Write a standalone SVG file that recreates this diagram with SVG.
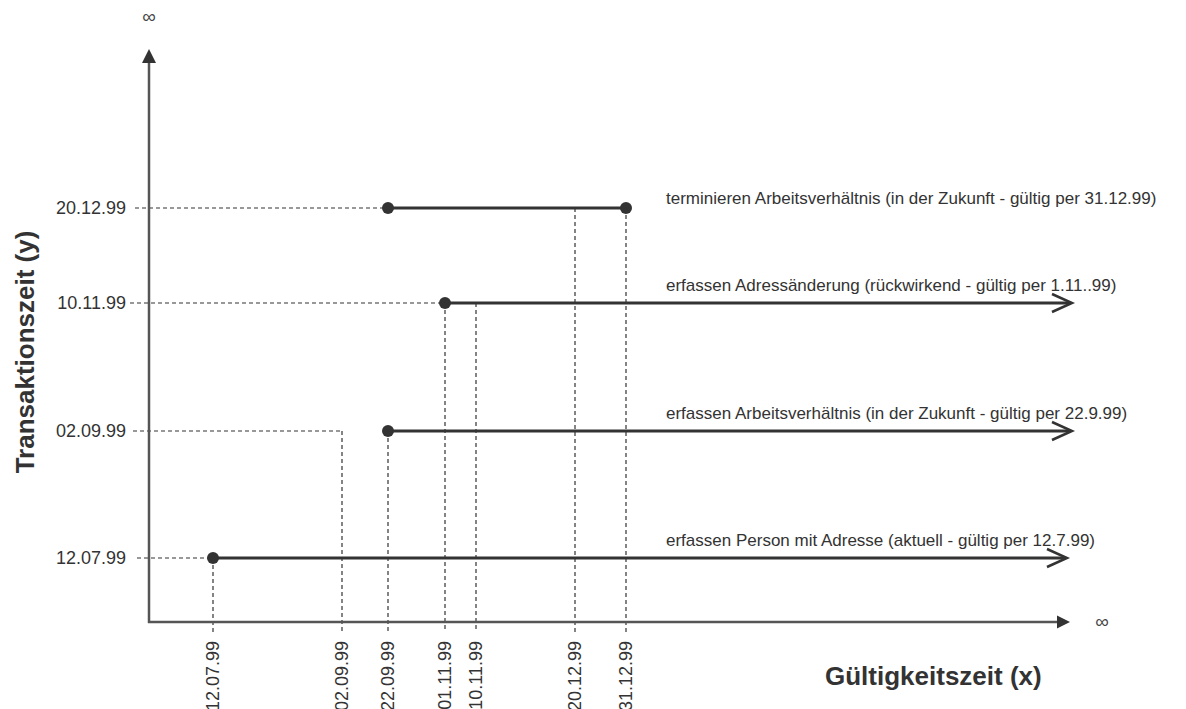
<svg xmlns="http://www.w3.org/2000/svg" width="1186" height="709" viewBox="0 0 1186 709">
<defs>
<style>
.t{font-family:"Liberation Sans",Arial,sans-serif;font-size:17px;fill:#333}
.d{font-family:"Liberation Sans",Arial,sans-serif;font-size:18px;fill:#333}
.b{font-family:"Liberation Sans",Arial,sans-serif;font-size:26px;font-weight:bold;fill:#333}
.inf{font-family:"Liberation Sans",Arial,sans-serif;font-size:19px;fill:#444}
.axis{stroke:#555;stroke-width:2.5;fill:none}
.bar{stroke:#333;stroke-width:3;fill:none}
.dash{stroke:#333;stroke-width:1.2;stroke-dasharray:4,3;fill:none}
.dot{fill:#333}
.chev{stroke:#333;stroke-width:2.5;fill:none}
</style>
</defs>
<rect width="1186" height="709" fill="#fff"/>
<g id="connectors">
<path class="dash" d="M135,208H388 M130,303H445 M133,431H342 M137,558H213"/>
<path class="dash" d="M213,558V632 M342,431V632 M388,431V632 M445,303V632 M476,303V632 M575,208V632 M626,208V632"/>
<path class="axis" d="M149,623V62 M148,622H1058"/>
<polygon points="149,49 142,63 156,63" fill="#333"/>
<polygon points="1070,622 1057,615.5 1057,628.5" fill="#333"/>
<path class="bar" d="M388,208H626"/>
<path class="bar" d="M445,303H1071"/>
<path class="chev" d="M1052,294L1072,303L1052,312"/>
<path class="bar" d="M388,431H1071"/>
<path class="chev" d="M1052,422L1072,431L1052,440"/>
<path class="bar" d="M213,558H1066"/>
<path class="chev" d="M1047,549L1067,558L1047,567"/>
</g>
<g id="dots">
<circle class="dot" cx="388" cy="208" r="6"/>
<circle class="dot" cx="626" cy="208" r="6"/>
<circle class="dot" cx="445" cy="303" r="6"/>
<circle class="dot" cx="388" cy="431" r="6"/>
<circle class="dot" cx="213" cy="558" r="6"/>
</g>
<g id="infinity">
<text class="inf" x="149" y="23" text-anchor="middle">∞</text>
<text class="inf" x="1102" y="628" text-anchor="middle">∞</text>
</g>
<g id="y-labels">
<text class="d" x="126" y="214" text-anchor="end">20.12.99</text>
<text class="d" x="126" y="309" text-anchor="end">10.11.99</text>
<text class="d" x="126" y="437" text-anchor="end">02.09.99</text>
<text class="d" x="126" y="564" text-anchor="end">12.07.99</text>
</g>
<g id="x-labels">
<text class="d" transform="translate(219,641) rotate(-90)" text-anchor="end">12.07.99</text>
<text class="d" transform="translate(348,641) rotate(-90)" text-anchor="end">02.09.99</text>
<text class="d" transform="translate(394,641) rotate(-90)" text-anchor="end">22.09.99</text>
<text class="d" transform="translate(451,641) rotate(-90)" text-anchor="end">01.11.99</text>
<text class="d" transform="translate(482,641) rotate(-90)" text-anchor="end">10.11.99</text>
<text class="d" transform="translate(581,641) rotate(-90)" text-anchor="end">20.12.99</text>
<text class="d" transform="translate(632,641) rotate(-90)" text-anchor="end">31.12.99</text>
</g>
<g id="events">
<text class="t" x="666" y="204">terminieren Arbeitsverhältnis (in der Zukunft - gültig per 31.12.99)</text>
<text class="t" x="666" y="291">erfassen Adressänderung (rückwirkend - gültig per 1.11..99)</text>
<text class="t" x="666" y="419">erfassen Arbeitsverhältnis (in der Zukunft - gültig per 22.9.99)</text>
<text class="t" x="666" y="546">erfassen Person mit Adresse (aktuell - gültig per 12.7.99)</text>
</g>
<g id="titles">
<text class="b" x="825" y="685">Gültigkeitszeit (x)</text>
<text class="b" transform="translate(34,352) rotate(-90)" text-anchor="middle">Transaktionszeit (y)</text>
</g>
</svg>
